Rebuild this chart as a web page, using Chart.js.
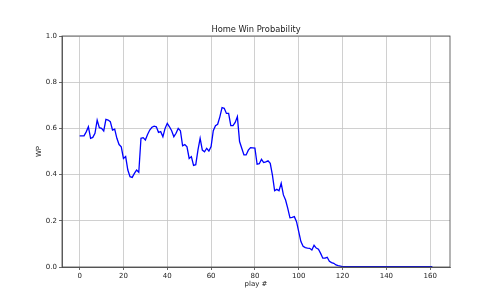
<!DOCTYPE html>
<html>
<head>
<meta charset="utf-8">
<script src="https://cdn.jsdelivr.net/npm/chart.js@4"></script>
<style>
    html, body { margin: 0; padding: 0; background: #ffffff; }
    canvas { display: block; }
</style>
</head>
<body>
<canvas id="wpChart" width="500" height="300"></canvas>
<script>
const homeWinProb = [
    0.568, 0.568, 0.568, 0.585, 0.607, 0.557, 0.561, 0.579, 0.636, 0.603,
    0.600, 0.589, 0.639, 0.636, 0.629, 0.593, 0.597, 0.557, 0.530, 0.520,
    0.470, 0.478, 0.420, 0.391, 0.388, 0.405, 0.420, 0.410, 0.557, 0.560,
    0.550, 0.574, 0.593, 0.605, 0.610, 0.607, 0.583, 0.586, 0.564, 0.600,
    0.622, 0.607, 0.590, 0.564, 0.579, 0.600, 0.590, 0.525, 0.530, 0.520,
    0.470, 0.478, 0.440, 0.443, 0.506, 0.557, 0.506, 0.499, 0.514, 0.502,
    0.521, 0.590, 0.612, 0.618, 0.650, 0.690, 0.687, 0.665, 0.665, 0.612,
    0.612, 0.626, 0.651, 0.543, 0.514, 0.485, 0.485, 0.506, 0.517, 0.516,
    0.515, 0.445, 0.447, 0.466, 0.452, 0.455, 0.460, 0.449, 0.398, 0.330,
    0.336, 0.330, 0.362, 0.312, 0.290, 0.254, 0.213, 0.215, 0.218, 0.196,
    0.153, 0.110, 0.090, 0.084, 0.082, 0.081, 0.074, 0.094, 0.082, 0.077,
    0.059, 0.038, 0.038, 0.042, 0.025, 0.019, 0.016, 0.009, 0.006, 0.004,
    0.002, 0.001, 0.001, 0.001, 0.001, 0.001, 0.001, 0.001, 0.001, 0.001,
    0.001, 0.001, 0.001, 0.001, 0.001, 0.001, 0.001, 0.001, 0.001, 0.001,
    0.001, 0.001, 0.001, 0.001, 0.001, 0.001, 0.001, 0.001, 0.001, 0.001,
    0.001, 0.001, 0.001, 0.001, 0.001, 0.001, 0.001, 0.001, 0.001, 0.001,
    0.001, 0.001
];
const xTickValues = [0, 20, 40, 60, 80, 100, 120, 140, 160];
const yTickValues = [0, 0.2, 0.4, 0.6, 0.8, 1.0];
const chartTitle = 'Home Win Probability';
const xLabel = 'play #';
const yLabel = 'WP';

const FONT = "'DejaVu Sans', sans-serif";
const TEXT = '#222222';
const SPINE = '#444444';
const GRID = '#c4c4c4';

// matplotlib-ish frame + titles
const framePlugin = {
    id: 'frame',
    afterDraw: function(chart) {
        const ctx = chart.ctx;
        const a = chart.chartArea;
        ctx.save();
        ctx.strokeStyle = SPINE;
        ctx.lineWidth = 0.8;
        ctx.strokeRect(a.left, a.top, a.right - a.left, a.bottom - a.top);

        ctx.fillStyle = TEXT;
        ctx.textAlign = 'center';
        ctx.textBaseline = 'middle';
        const cx = (a.left + a.right) / 2;
        ctx.font = '8.3px ' + FONT;
        ctx.fillText(chartTitle, cx, 29.5);
        ctx.font = '7px ' + FONT;
        ctx.fillText(xLabel, cx, 284);
        ctx.translate(39.5, (a.top + a.bottom) / 2);
        ctx.rotate(-Math.PI / 2);
        ctx.fillText(yLabel, 0, 0);
        ctx.restore();
    }
};

new Chart(document.getElementById('wpChart'), {
    type: 'line',
    data: {
        datasets: [{
            data: homeWinProb.map(function(v, i) { return { x: i, y: v }; }),
            borderColor: '#0000ff',
            borderWidth: 1.3,
            pointRadius: 0,
            tension: 0,
            fill: false
        }]
    },
    options: {
        responsive: false,
        animation: false,
        devicePixelRatio: 1,
        layout: {
            padding: { left: 0, right: 50, top: 36, bottom: 0 }
        },
        plugins: {
            legend: { display: false },
            tooltip: { enabled: false }
        },
        scales: {
            x: {
                type: 'linear',
                min: -8.05,
                max: 169.05,
                afterBuildTicks: function(scale) {
                    scale.ticks = xTickValues.map(function(v) { return { value: v }; });
                },
                afterFit: function(scale) { scale.height = 33; },
                grid: {
                    color: GRID,
                    lineWidth: 0.8,
                    tickLength: 3,
                    tickColor: SPINE
                },
                border: { color: SPINE, width: 0.8 },
                ticks: {
                    color: TEXT,
                    padding: 2,
                    maxRotation: 0,
                    autoSkip: false,
                    font: { size: 7, family: FONT }
                }
            },
            y: {
                min: 0,
                max: 1,
                afterBuildTicks: function(scale) {
                    scale.ticks = yTickValues.map(function(v) { return { value: v }; });
                },
                afterFit: function(scale) { scale.width = 62; },
                grid: {
                    color: GRID,
                    lineWidth: 0.8,
                    tickLength: 3,
                    tickColor: SPINE
                },
                border: { color: SPINE, width: 0.8 },
                ticks: {
                    color: TEXT,
                    padding: 2,
                    autoSkip: false,
                    font: { size: 7, family: FONT },
                    callback: function(value) { return Number(value).toFixed(1); }
                }
            }
        }
    },
    plugins: [framePlugin]
});
</script>
</body>
</html>
